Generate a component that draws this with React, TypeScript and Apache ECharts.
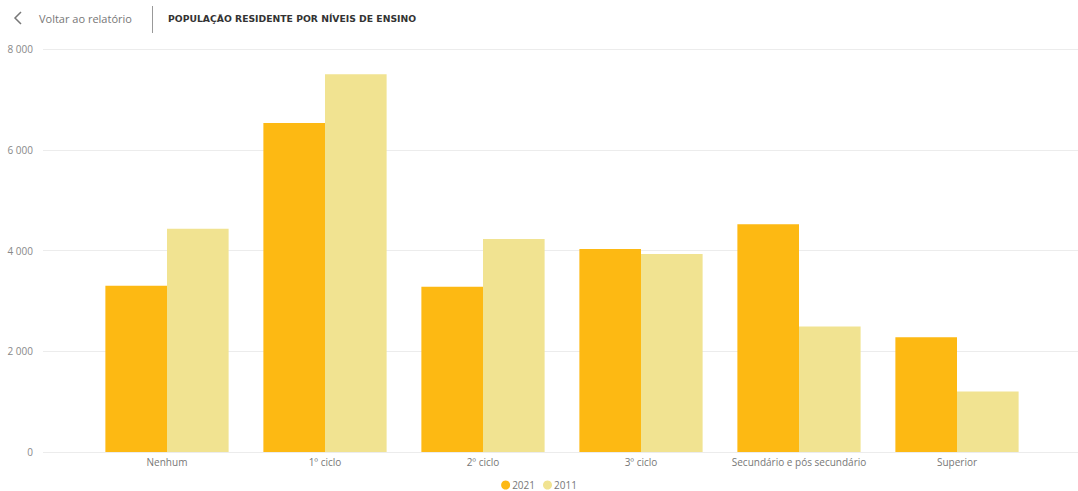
import React, { useEffect, useRef } from "react";
import * as echarts from "echarts";

const categories = ["Nenhum", "1º ciclo", "2º ciclo", "3º ciclo", "Secundário e pós secundário", "Superior"];
const seriesNames = ["2021", "2011"];
const values2021 = [3300, 6530, 3280, 4030, 4520, 2280];
const values2011 = [4430, 7500, 4230, 3930, 2490, 1200];
const yTicks = [0, 2000, 4000, 6000, 8000];
const colors = ["#FDB913", "#F1E391"];
const headerBack = "Voltar ao relatório";
const headerTitle = "POPULAÇÃO RESIDENTE POR NÍVEIS DE ENSINO";

const fmt = (v: number) => String(v).replace(/\B(?=(\d{3})+(?!\d))/g, " ");

export default function App() {
  const ref = useRef<HTMLDivElement>(null);
  useEffect(() => {
    const chart = echarts.init(ref.current!, null, { renderer: "svg" });
    const yMax = yTicks[yTicks.length - 1];
    const interval = yTicks[1] - yTicks[0];
    chart.setOption({
      animation: false,
      textStyle: { fontFamily: "'Open Sans', sans-serif" },
      grid: [
        { left: 43, right: 0, top: 49, bottom: 39 },
        { left: 88, right: 42, top: 49, bottom: 39 },
      ],
      xAxis: [
        { type: "category", gridIndex: 0, data: categories, show: false },
        {
          type: "category",
          gridIndex: 1,
          data: categories,
          axisLine: { show: false },
          axisTick: { show: false },
          axisLabel: { color: "#777", fontSize: 10, margin: 5, interval: 0 },
        },
      ],
      yAxis: [
        {
          type: "value",
          gridIndex: 0,
          min: 0,
          max: yMax,
          interval,
          axisLine: { show: false },
          axisTick: { show: false },
          splitLine: { lineStyle: { color: "#ececec", width: 1 } },
          axisLabel: { color: "#888", fontSize: 10, margin: 10, formatter: (v: number) => fmt(v) },
        },
        { type: "value", gridIndex: 1, min: 0, max: yMax, interval, show: false },
      ],
      legend: {
        data: seriesNames,
        top: 480,
        left: "center",
        icon: "circle",
        itemWidth: 9,
        itemHeight: 9,
        itemGap: 8,
        padding: 0,
        textStyle: { color: "#777", fontSize: 10, padding: [0, 0, 0, -3] },
      },
      series: [
        {
          name: seriesNames[0],
          type: "bar",
          xAxisIndex: 1,
          yAxisIndex: 1,
          data: values2021,
          itemStyle: { color: colors[0] },
          barGap: "0%",
          barCategoryGap: "22%",
        },
        {
          name: seriesNames[1],
          type: "bar",
          xAxisIndex: 1,
          yAxisIndex: 1,
          data: values2011,
          itemStyle: { color: colors[1] },
          barGap: "0%",
          barCategoryGap: "22%",
        },
      ],
      graphic: [
        {
          type: "polyline",
          shape: { points: [[21, 12], [15, 18], [21, 24]] },
          style: { stroke: "#777", lineWidth: 1.5, fill: "none" },
        },
        {
          type: "text",
          x: 39,
          y: 18,
          style: { text: headerBack, fill: "#777", fontSize: 11, fontFamily: "'Open Sans', sans-serif", verticalAlign: "middle" },
        },
        {
          type: "line",
          shape: { x1: 152.5, y1: 6, x2: 152.5, y2: 33 },
          style: { stroke: "#999", lineWidth: 1 },
        },
        {
          type: "text",
          x: 168,
          y: 18,
          style: { text: headerTitle, fill: "#333", fontSize: 9.25, fontWeight: "bold", fontFamily: "'DejaVu Sans', sans-serif", verticalAlign: "middle" },
        },
      ],
    });
    return () => chart.dispose();
  }, []);
  return <div ref={ref} style={{ position: "fixed", left: 0, top: 0, width: 1078, height: 491, background: "#fff" }} />;
}
